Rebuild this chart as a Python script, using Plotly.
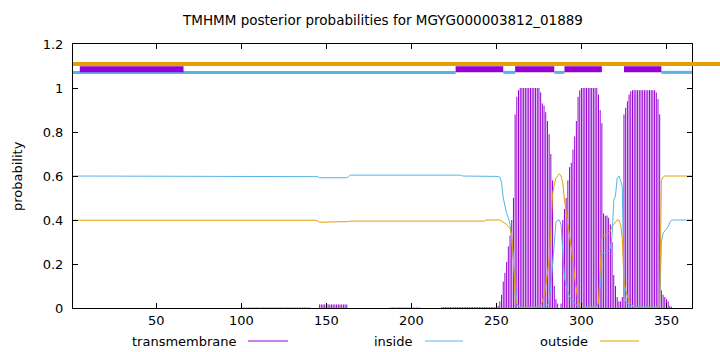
import plotly.graph_objects as go

# ---------------- data ----------------
length = 365
residues = list(range(1, length + 1))

tm_prob = ([0.0] * 99 + [0.002] * 41 + [0.0] * 5 + [0.016] * 17 + [0.0] * 25 +
           [0.002] * 18 + [0.0] * 12 + [0.004] * 32 +
           [0.005, 0.01, 0.03, 0.06, 0.12, 0.16, 0.21, 0.28, 0.33, 0.40, 0.50, 0.88, 0.96, 0.99] +
           [1.0] * 12 +
           [0.98, 0.93, 0.92, 0.89, 0.85, 0.79, 0.70, 0.58, 0.10, 0.04, 0.02, 0.0, 0.02,
            0.40, 0.45, 0.50, 0.58, 0.64, 0.66, 0.72, 0.78, 0.85, 0.96, 0.99] +
           [1.0] * 10 +
           [0.97, 0.90, 0.84, 0.43, 0.42, 0.42, 0.41, 0.38, 0.30, 0.15, 0.10, 0.05, 0.03, 0.03,
            0.05, 0.88, 0.91, 0.94, 0.97, 0.985] +
           [0.99] * 14 +
           [0.98, 0.95, 0.88, 0.08, 0.06, 0.05, 0.04, 0.03, 0.01, 0.005] +
           [0.0] * 12)

inside_prob = ([0.600] * 144 + [0.597] + [0.592] * 17 + [0.597] + [0.604] * 66 + [0.600] * 20 +
               [0.598, 0.598, 0.595, 0.57, 0.50, 0.46, 0.43, 0.41, 0.38, 0.31, 0.20, 0.09, 0.02, 0.005] +
               [0.003] * 15 +
               [0.005, 0.01, 0.03, 0.10, 0.19, 0.30, 0.39, 0.40, 0.40, 0.38, 0.26, 0.14, 0.10,
                0.07, 0.05, 0.04, 0.03, 0.02, 0.01] +
               [0.005] * 12 +
               [0.02, 0.10, 0.24, 0.25, 0.25, 0.26, 0.26, 0.27, 0.33, 0.49, 0.51, 0.59, 0.60,
                0.58, 0.55, 0.10, 0.03, 0.02, 0.01] +
               [0.005] * 18 +
               [0.30, 0.34, 0.35, 0.36, 0.37, 0.39, 0.40] +
               [0.40] * 12)

outside_prob = ([0.399] * 144 + [0.395] + [0.390] * 17 + [0.393] + [0.395] * 80 + [0.400] * 6 +
                [0.40, 0.40, 0.40, 0.395, 0.39, 0.385, 0.38, 0.37, 0.36, 0.33, 0.22, 0.06, 0.02, 0.01] +
                [0.003] * 12 +
                [0.01, 0.03, 0.06, 0.10, 0.16, 0.22, 0.35, 0.52, 0.56, 0.59, 0.60, 0.61, 0.60,
                 0.57, 0.49, 0.44, 0.39, 0.34, 0.29, 0.22, 0.14, 0.07, 0.03, 0.01] +
                [0.003] * 10 +
                [0.03, 0.20, 0.32, 0.33, 0.33, 0.34, 0.34, 0.35, 0.37, 0.38, 0.39, 0.40, 0.40,
                 0.38, 0.32, 0.12, 0.08, 0.05, 0.03, 0.02, 0.01] +
                [0.003] * 15 +
                [0.01, 0.58, 0.595] +
                [0.60] * 17)

# predicted topology segments (top bar)
tm_segments = [(5, 66), (226, 254), (261, 284), (290, 312), (325, 347)]
inside_segments = [(1, 226), (254, 261), (284, 290), (347, 365)]
outside_segments = [(1, 365)]
topo_levels = {"outside": 1.109, "inside": 1.071, "tm_low": 1.072, "tm_high": 1.099}

x_ticks = [50, 100, 150, 200, 250, 300, 350]
y_ticks = [0, 0.2, 0.4, 0.6, 0.8, 1.0, 1.2]
y_tick_text = ["0", "0.2", "0.4", "0.6", "0.8", "1", "1.2"]

title = "TMHMM posterior probabilities for MGYG000003812_01889"
legend_names = ["transmembrane", "inside", "outside"]

C_TM = "#9400D3"
C_IN = "#56B4E9"
C_OUT = "#E69F00"
FONT = "DejaVu Sans"
FS = 13

# ---------------- figure ----------------
# transmembrane drawn as impulses (vertical line from 0 to value at each residue)
imp_x, imp_y = [], []
for r, p in zip(residues, tm_prob):
    if p > 0:
        imp_x += [r, r, None]
        imp_y += [0, p, None]

fig = go.Figure()
fig.add_trace(go.Scatter(x=imp_x, y=imp_y, mode="lines", connectgaps=False,
                         line=dict(color=C_TM, width=1), showlegend=False))
fig.add_trace(go.Scatter(x=residues, y=inside_prob, mode="lines",
                         line=dict(color=C_IN, width=1), showlegend=False))
fig.add_trace(go.Scatter(x=residues, y=outside_prob, mode="lines",
                         line=dict(color=C_OUT, width=1), showlegend=False))

L, R, T, B = 73, 28, 44, 44
pw = 720 - L - R
ph = 352 - T - B
def px_x(p):
    return (p - L) / pw
def px_y(p):
    return (352 - B - p) / ph
def data_to_paper(x):
    return (x - 1) / (length - 1)

shapes = []
# the gnuplot "outside" arrow runs past the right border to the page edge
for s, e in outside_segments:
    x1 = data_to_paper(e)
    if e == length:
        x1 = px_x(720)
    shapes.append(dict(type="line", xref="paper", yref="y", x0=data_to_paper(s), x1=x1,
                       y0=topo_levels["outside"], y1=topo_levels["outside"],
                       line=dict(color=C_OUT, width=4)))
for s, e in inside_segments:
    shapes.append(dict(type="line", xref="x", yref="y", x0=s, x1=e,
                       y0=topo_levels["inside"], y1=topo_levels["inside"],
                       line=dict(color=C_IN, width=3)))
for s, e in tm_segments:
    shapes.append(dict(type="rect", xref="x", yref="y", x0=s, x1=e,
                       y0=topo_levels["tm_low"], y1=topo_levels["tm_high"],
                       fillcolor=C_TM, line=dict(width=0)))

# legend (gnuplot style: text then sample line)
legend_pos = [(239, 248, 288, C_TM), (415, 425, 463, C_IN), (590, 600, 639, C_OUT)]
annotations = []
for name, (tx, l0, l1, col) in zip(legend_names, legend_pos):
    annotations.append(dict(text=name, xref="paper", yref="paper", x=px_x(tx), y=px_y(341),
                            xanchor="right", yanchor="middle", showarrow=False,
                            font=dict(family=FONT, size=FS, color="black")))
    shapes.append(dict(type="line", xref="paper", yref="paper", x0=px_x(l0), x1=px_x(l1),
                       y0=px_y(341), y1=px_y(341), line=dict(color=col, width=1)))

annotations.append(dict(text="probability", xref="paper", yref="paper", x=px_x(17), y=0.5,
                        xanchor="center", yanchor="middle", textangle=-90, showarrow=False,
                        font=dict(family=FONT, size=FS, color="black")))

fig.update_layout(
    width=720, height=352,
    margin=dict(l=L, r=R, t=T, b=B),
    paper_bgcolor="white", plot_bgcolor="white",
    font=dict(family=FONT, size=FS, color="black"),
    title=dict(text=title, x=px_x(383), xref="paper", xanchor="center",
               y=1 - 20 / 352, yref="container", yanchor="middle",
               font=dict(family=FONT, size=13.5, color="black")),
    shapes=shapes,
    annotations=annotations,
    showlegend=False,
)
fig.update_xaxes(range=[1, length], tickvals=x_ticks, ticks="inside", ticklen=5,
                 tickcolor="black", showline=True, linecolor="black", linewidth=1,
                 mirror="allticks", showgrid=False, zeroline=False)
fig.update_yaxes(range=[0, 1.2], tickvals=y_ticks, ticktext=y_tick_text, ticks="inside",
                 ticklen=5, tickcolor="black", showline=True, linecolor="black", linewidth=1,
                 mirror="allticks", showgrid=False, zeroline=False, ticklabelstandoff=6)

fig.write_html("out.html")
